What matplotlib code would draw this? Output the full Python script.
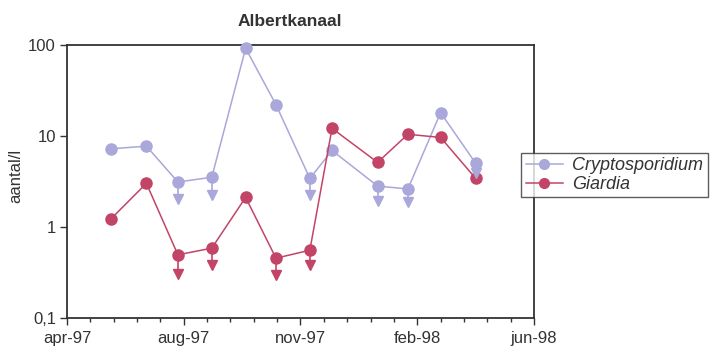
import matplotlib
matplotlib.use("Agg")
import matplotlib.pyplot as plt
import matplotlib.dates as mdates
import numpy as np
from datetime import datetime

plt.rcParams['font.family'] = ['Liberation Sans', 'DejaVu Sans']

# --- data ---
dates = ["1997-06-07", "1997-07-07", "1997-08-03", "1997-09-01", "1997-09-30",
         "1997-10-26", "1997-11-24", "1997-12-13", "1998-01-21", "1998-02-16",
         "1998-03-16", "1998-04-15"]
crypto = [7.2, 7.7, 3.1, 3.5, 92, 22, 3.4, 6.9, 2.8, 2.6, 18, 5.0]
giardia = [1.23, 3.0, 0.49, 0.58, 2.1, 0.45, 0.55, 12.1, 5.1, 10.4, 9.6, 3.4]
# detection-limit arrows (index, arrow value)
crypto_lim_idx = [2, 3, 6, 8, 9, 11]
crypto_lim_val = [2.0, 2.25, 2.25, 1.9, 1.85, 3.9]
giardia_lim_idx = [2, 3, 5, 6]
giardia_lim_val = [0.30, 0.38, 0.29, 0.38]

xtick_labels = ["apr-97", "aug-97", "nov-97", "feb-98", "jun-98"]
ytick_vals = [0.1, 1, 10, 100]
ytick_labels = ["0,1", "1", "10", "100"]

c_crypto = "#aaa7da"
c_giardia = "#c24466"
c_text = "#333333"

x = mdates.date2num([datetime.strptime(d, "%Y-%m-%d") for d in dates])
x0 = mdates.date2num(datetime(1997, 4, 30))

fig = plt.figure(figsize=(7.11, 3.5), dpi=100)
ax = fig.add_axes([67/711, 1-317.5/350, (534-67)/711, (317.5-45)/350])

ax.set_yscale('log')
ax.set_ylim(0.1, 100)
ax.set_xlim(x0, x0 + 400)

def draw(vals, idx, lims, color, label, z, zarrow):
    vals = np.array(vals)
    for i, lv in zip(idx, lims):
        ax.plot([x[i], x[i]], [vals[i], lv], color=color, lw=1.2, zorder=zarrow)
        ax.plot([x[i]], [lv], marker='v', ms=7.5, color=color, ls='none', zorder=zarrow)
    ax.plot(x, vals, color=color, lw=1.1, marker='o', ms=8, mec=color, mfc=color,
            label=label, zorder=z, clip_on=False)

draw(crypto, crypto_lim_idx, crypto_lim_val, c_crypto, "Cryptosporidium", 3, 7)
draw(giardia, giardia_lim_idx, giardia_lim_val, c_giardia, "Giardia", 5, 4)

ax.set_xticks([x0 + 100 * k for k in range(5)])
ax.set_xticklabels(xtick_labels)
ax.set_xticks([x0 + 20 * k for k in range(21)], minor=True)
ax.set_yticks(ytick_vals)
ax.set_yticklabels(ytick_labels)
ax.yaxis.set_minor_locator(matplotlib.ticker.NullLocator())

ax.tick_params(axis='both', which='major', direction='out', length=5, width=1,
               labelsize=12, colors=c_text, pad=3)
ax.tick_params(axis='x', which='minor', direction='out', length=3, width=1, colors=c_text)
ax.tick_params(axis='x', pad=5)
for lab in ax.get_xticklabels() + ax.get_yticklabels():
    lab.set_color(c_text)

for s in ax.spines.values():
    s.set_color(c_text)
    s.set_linewidth(1.3)

ax.set_ylabel("aantal/l", fontsize=12, color=c_text)
ax.yaxis.set_label_coords((23-67)/467, 0.52)

fig.text(290/711, 1-22/350, "Albertkanaal", ha='center', va='center',
         fontsize=12.5, fontweight='bold', color=c_text)

leg = ax.legend(loc='center left', bbox_to_anchor=(521/711, 1-175/350),
                bbox_transform=fig.transFigure, frameon=True, fancybox=False,
                prop={'style': 'italic', 'size': 13}, handlelength=2.1,
                borderpad=0.25, labelspacing=0.1, handletextpad=0.5,
                borderaxespad=0)
leg.get_frame().set_edgecolor(c_text)
leg.get_frame().set_linewidth(1.0)
for t in leg.get_texts():
    t.set_color(c_text)
for h in leg.legend_handles:
    h.set_markersize(7)

fig.savefig("out.png", dpi=100)
